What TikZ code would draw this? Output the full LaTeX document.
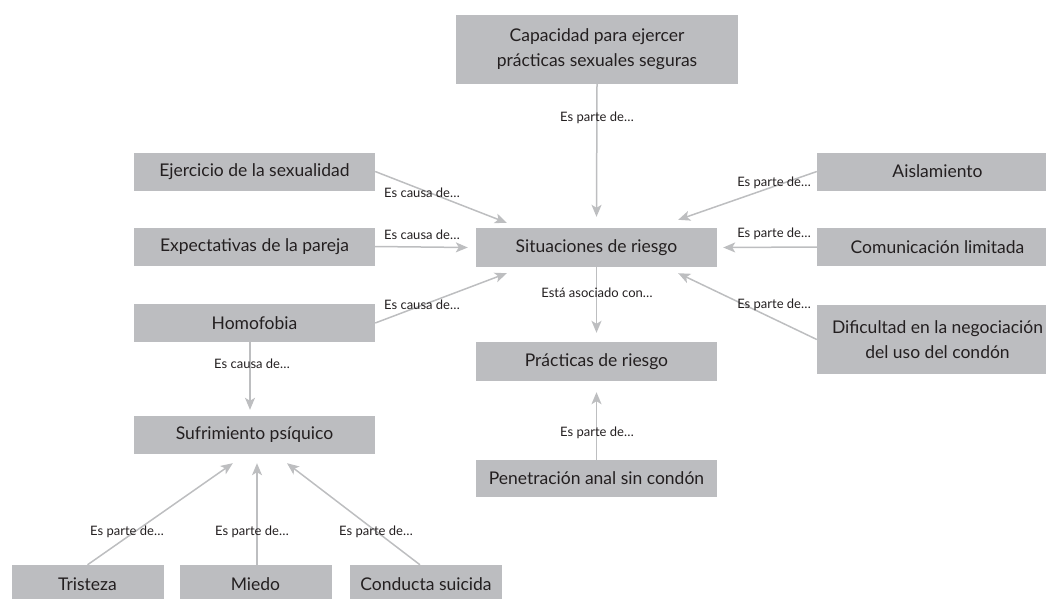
\documentclass[tikz,border=0pt]{standalone}
\usepackage{fontspec}
\setmainfont{Lato}
\usetikzlibrary{arrows.meta,calc}
\definecolor{boxgray}{HTML}{BCBDC0}
\definecolor{linegray}{HTML}{BDBEC0}
\definecolor{textc}{HTML}{231F20}
\tikzset{
  box/.style={fill=boxgray, minimum width=241pt, minimum height=38pt, inner sep=0pt,
    font=\fontsize{17.5}{25}\selectfont, align=center, text=textc},
  smallbox/.style={box, minimum width=152pt},
  lbl/.style={font=\fontsize{13}{15}\selectfont, text=textc, inner sep=0pt},
  conn/.style={draw=linegray, line width=1.5pt, -{Stealth[length=12pt,width=10pt,inset=3pt]}},
}
\begin{document}
\begin{tikzpicture}[x=1pt,y=-1pt]
\useasboundingbox (0,0) rectangle (1046,598);
\clip (0,0) rectangle (1046,598);
% nodes
\node[box, minimum width=282pt, minimum height=69pt] (cap) at (597,49.5) {Capacidad para ejercer\\prácticas sexuales seguras};
\node[box] (ej) at (254.5,171.5) {Ejercicio de la sexualidad};
\node[box] (ex) at (254.5,246.5) {Expectativas de la pareja};
\node[box] (hom) at (254.5,323) {Homofobia};
\node[box, minimum height=39pt] (sit) at (596.5,247.5) {Situaciones de riesgo};
\node[box] (ais) at (937.5,171.5) {Aislamiento};
\node[box] (com) at (937.5,247) {Comunicación limitada};
\node[box, minimum height=69pt] (dif) at (937.5,339.5) {Dificultad en la negociación\\del uso del condón};
\node[box, minimum height=39pt] (prac) at (596.5,361.5) {Prácticas de riesgo};
\node[box, minimum height=37pt] (pen) at (596.5,478.5) {Penetración anal sin condón};
\node[box] (suf) at (254.5,435) {Sufrimiento psíquico};
\node[smallbox] (tri) at (87.5,584) {Tristeza};
\node[smallbox] (mie) at (255.5,584) {Miedo};
\node[smallbox] (con) at (426,584) {Conducta suicida};
% connectors
\draw[conn] (cap.south) -- ($(sit.north)+(0,-11)$);
\draw[conn] (ej.east) -- ($(sit.north west)+(31,-5)$);
\draw[conn] (ex.east) -- ($(sit.west)+(-8,0)$);
\draw[conn] (hom.east) -- ($(sit.south west)+(31,6)$);
\draw[conn] (ais.west) -- ($(sit.north east)+(-39,-8)$);
\draw[conn] (com.west) -- ($(sit.east)+(6,0)$);
\draw[conn] (dif.west) -- ($(sit.south east)+(-39,6)$);
\draw[conn] (sit.south) -- ($(prac.north)+(0,-9)$);
\draw[conn] (pen.north) -- ($(prac.south)+(0,11)$);
\draw[conn] ($(hom.south)+(-4.5,0)$) -- ($(suf.north)+(-4.5,-6)$);
\draw[conn] (tri.north) -- ($(suf.south west)+(99,9)$);
\draw[conn] ($(mie.north)+(1.5,0)$) -- ($(suf.south)+(2.5,9)$);
\draw[conn] ($(con.north)+(-6,0)$) -- ($(suf.south)+(32.5,9)$);
% labels
\node[lbl] (l1) at (597,118) {Es parte de…};
\node[lbl, anchor=west] (l2) at (384,193) {Es causa de…};
\node[lbl, anchor=west] (l3) at (384,235) {Es causa de…};
\node[lbl, anchor=west] (l4) at (384,305) {Es causa de…};
\node[lbl, anchor=east] (l5) at (811,183) {Es parte de…};
\node[lbl, anchor=east] (l6) at (811,234) {Es parte de…};
\node[lbl, anchor=east] (l7) at (811,305) {Es parte de…};
\node[lbl] (l8) at (597,293) {Está asociado con…};
\node[lbl] (l9) at (597,433) {Es parte de…};
\node[lbl] (l10) at (252,364) {Es causa de…};
\node[lbl] (l11) at (127,532) {Es parte de…};
\node[lbl] (l12) at (252,532) {Es parte de…};
\node[lbl] (l13) at (376,532) {Es parte de…};
\end{tikzpicture}
\end{document}
